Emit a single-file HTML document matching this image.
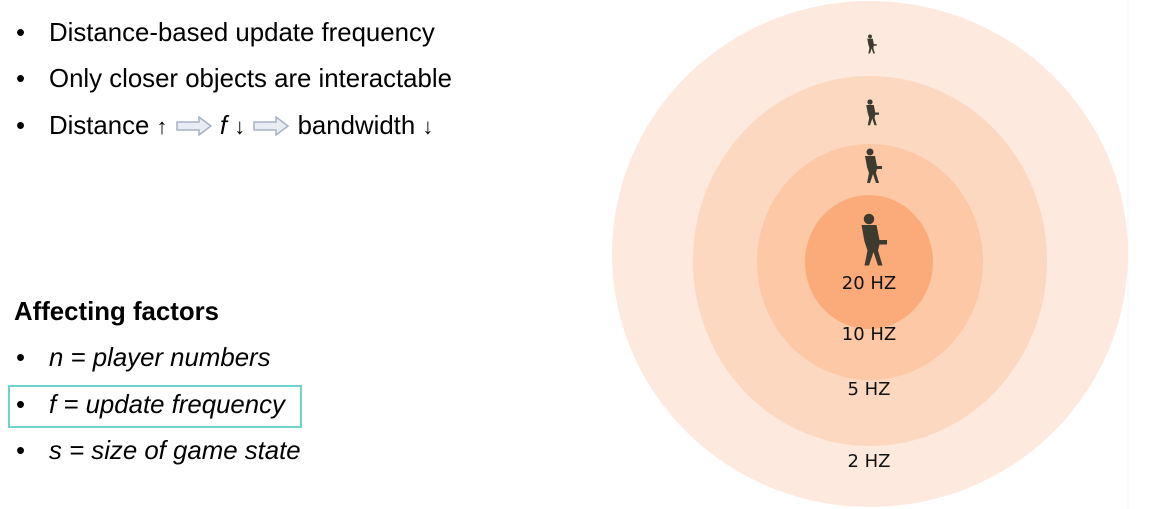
<!DOCTYPE html>
<html><head><meta charset="utf-8"><style>
body{margin:0;width:1149px;height:509px;background:#fff;overflow:hidden;position:relative;font-family:"Liberation Sans",Arial,sans-serif;color:#000}
.t{position:absolute;font-size:25.8px;line-height:28px;white-space:nowrap}
.i{font-style:italic}
.bl{position:absolute;left:0;top:0}
.tx{position:absolute;left:33px;top:0}
</style></head><body>
<div class="t" style="left:16px;top:19px"><span class="bl">•</span><span class="tx">Distance-based update frequency</span></div>
<div class="t" style="left:16px;top:65px"><span class="bl">•</span><span class="tx">Only closer objects are interactable</span></div>
<div class="t" style="left:16px;top:112px"><span class="bl">•</span><span class="tx">Distance <span style="font-size:22px;font-style:italic">↑</span>
<svg width="38" height="20" style="vertical-align:-2px"><path d="M2 6h22v-5l12 9-12 9v-5h-22z" fill="#e8ecf3" stroke="#a8b2c4" stroke-width="1.5"/></svg>
<span class="i">f</span> <span style="font-size:22px;font-style:italic">↓</span>
<svg width="38" height="20" style="vertical-align:-2px"><path d="M2 6h22v-5l12 9-12 9v-5h-22z" fill="#e8ecf3" stroke="#a8b2c4" stroke-width="1.5"/></svg>
bandwidth <span style="font-size:22px;font-style:italic">↓</span></span></div>
<div class="t" style="left:14px;top:298px;font-weight:bold">Affecting factors</div>
<div class="t" style="left:16px;top:344px"><span class="bl">•</span><span class="tx i">n = player numbers</span></div>
<div style="position:absolute;left:8px;top:385px;width:290px;height:39px;border:2px solid #6fd2cc"></div>
<div class="t" style="left:16px;top:391px"><span class="bl">•</span><span class="tx i">f = update frequency</span></div>
<div class="t" style="left:16px;top:437px"><span class="bl">•</span><span class="tx i">s = size of game state</span></div>
<svg width="1149" height="509" style="position:absolute;left:0;top:0">
<line x1="1128" y1="0" x2="1128" y2="509" stroke="#f4f4f4"/>
<ellipse cx="870" cy="254" rx="258" ry="253" fill="#fde9dd"/>
<ellipse cx="870" cy="261" rx="177" ry="185" fill="#fcd8c0"/>
<ellipse cx="870" cy="262" rx="113" ry="118" fill="#fcc8a6"/>
<ellipse cx="869" cy="262" rx="64" ry="67" fill="#fbab79"/>
<g font-family="'DejaVu Sans',sans-serif" font-size="18" text-anchor="middle" fill="#111">
<text x="869" y="289">20 HZ</text>
<text x="869" y="340">10 HZ</text>
<text x="869" y="395">5 HZ</text>
<text x="869" y="467">2 HZ</text>
</g>
<g fill="#3d3a30">
<g transform="translate(869,237) scale(1.5)"><circle cx="0" cy="-12" r="3.5"/><path d="M-5-8h10l2 10h5v3h-5l-1 4 3 10h-3l-3-9-3 9h-3l2-10-2-6z"/></g>
<g transform="translate(870,164)"><circle cx="0" cy="-12" r="3.5"/><path d="M-5-8h10l2 10h5v3h-5l-1 4 3 10h-3l-3-9-3 9h-3l2-10-2-6z"/></g>
<g transform="translate(870,111) scale(0.75)"><circle cx="0" cy="-12" r="3.5"/><path d="M-5-8h10l2 10h5v3h-5l-1 4 3 10h-3l-3-9-3 9h-3l2-10-2-6z"/></g>
<g transform="translate(870,43) scale(0.55)"><circle cx="0" cy="-12" r="3.5"/><path d="M-5-8h10l2 10h5v3h-5l-1 4 3 10h-3l-3-9-3 9h-3l2-10-2-6z"/></g>
</g>
</svg>
</body></html>
